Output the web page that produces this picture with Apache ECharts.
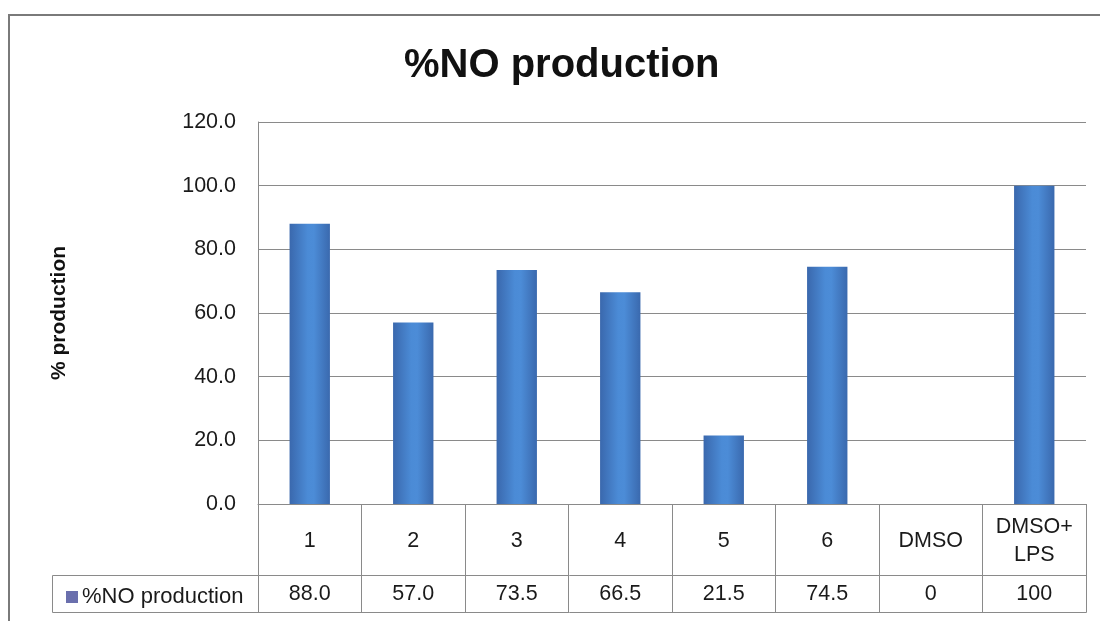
<!DOCTYPE html>
<html>
<head>
<meta charset="utf-8">
<title>%NO production</title>
<script src="https://cdn.jsdelivr.net/npm/echarts@6/dist/echarts.min.js"></script>
<style>
  html, body { margin: 0; padding: 0; background: #ffffff; }
  #chart { width: 1102px; height: 621px; }
</style>
</head>
<body>
<div id="chart"></div>
<script>
// Samples along the x axis (also the header row of the data table)
const categories = ['1', '2', '3', '4', '5', '6', 'DMSO', 'DMSO+\nLPS'];
// % NO production, as written in the data table row
const production = ['88.0', '57.0', '73.5', '66.5', '21.5', '74.5', '0', '100'];
// Value axis ticks
const yTicks = [0, 20, 40, 60, 80, 100, 120];
const seriesName = '%NO production';

const FONT = '"Liberation Sans", Arial, sans-serif';
const TEXT = '#1a1a1a';
const LINE = '#8a8a8a';
const LABEL_SIZE = 21.5;

// plot area and data-table layout
const W = 1102, H = 621;
const plot = { left: 258, right: 1086, top: 122, bottom: 504 };
const table = { headerBottom: 575, bottom: 612, legendLeft: 52 };

const chart = echarts.init(document.getElementById('chart'), null, { renderer: 'canvas' });

const barColor = new echarts.graphic.LinearGradient(0, 0, 1, 0, [
  { offset: 0, color: '#3a68ad' },
  { offset: 0.45, color: '#4b8bd6' },
  { offset: 0.6, color: '#4c8cd7' },
  { offset: 1, color: '#3a69ae' }
]);

chart.setOption({
  backgroundColor: '#ffffff',
  animation: false,
  textStyle: { fontFamily: FONT, color: TEXT },
  title: {
    text: seriesName,
    left: 404,
    top: 46,
    padding: 0,
    textStyle: { fontFamily: FONT, fontSize: 40, fontWeight: 'bold', color: '#111' }
  },
  legend: {
    data: [{ name: seriesName, icon: 'rect', itemStyle: { color: '#6a6fad', borderWidth: 0 } }],
    left: 61,
    top: 581,
    itemWidth: 12,
    itemHeight: 12,
    itemGap: 6,
    textStyle: { fontFamily: FONT, fontSize: 22, color: TEXT, padding: [0, 0, 0, -1] }
  },
  grid: {
    left: plot.left,
    right: W - plot.right,
    top: plot.top,
    bottom: H - plot.bottom,
    containLabel: false
  },
  xAxis: [
    {
      type: 'category',
      data: categories,
      axisLine: { show: true, lineStyle: { color: LINE, width: 1 } },
      axisTick: {
        show: true,
        interval: 0,
        alignWithLabel: false,
        length: table.bottom - plot.bottom,
        lineStyle: { color: LINE, width: 1 }
      },
      axisLabel: {
        interval: 0,
        margin: 37,
        verticalAlign: 'middle',
        fontFamily: FONT,
        fontSize: LABEL_SIZE,
        lineHeight: 28,
        color: TEXT
      }
    },
    {
      type: 'category',
      data: categories,
      position: 'bottom',
      offset: table.headerBottom - plot.bottom,
      axisLine: { show: false },
      axisTick: { show: false },
      axisLabel: {
        interval: 0,
        margin: 19,
        verticalAlign: 'middle',
        fontFamily: FONT,
        fontSize: LABEL_SIZE,
        color: TEXT,
        formatter: (v, i) => production[i]
      }
    }
  ],
  yAxis: {
    type: 'value',
    min: yTicks[0],
    max: yTicks[yTicks.length - 1],
    interval: yTicks[1] - yTicks[0],
    name: '% production',
    nameLocation: 'middle',
    nameGap: 188,
    nameTextStyle: { fontFamily: FONT, fontSize: 21, fontWeight: 'bold', color: '#111' },
    axisLine: { show: true, lineStyle: { color: LINE, width: 1 } },
    axisTick: { show: false },
    splitLine: { show: true, lineStyle: { color: LINE, width: 1 } },
    axisLabel: {
      margin: 22,
      fontFamily: FONT,
      fontSize: LABEL_SIZE,
      color: TEXT,
      formatter: v => v.toFixed(1)
    }
  },
  series: [
    {
      name: seriesName,
      type: 'bar',
      data: production.map(Number),
      barWidth: '39%',
      itemStyle: { color: barColor, borderWidth: 0 }
    }
  ],
  graphic: [
    // outer chart frame (top and left edges)
    {
      type: 'polyline',
      shape: { points: [[9, H], [9, 15], [1100, 15]] },
      style: { stroke: '#7a7a7a', lineWidth: 2, fill: null },
      silent: true
    },
    // data-table value row, including the legend cell
    {
      type: 'rect',
      shape: {
        x: table.legendLeft + 0.5,
        y: table.headerBottom + 0.5,
        width: plot.right - table.legendLeft,
        height: table.bottom - table.headerBottom
      },
      style: { stroke: LINE, lineWidth: 1, fill: null },
      silent: true
    }
  ]
});
</script>
</body>
</html>
